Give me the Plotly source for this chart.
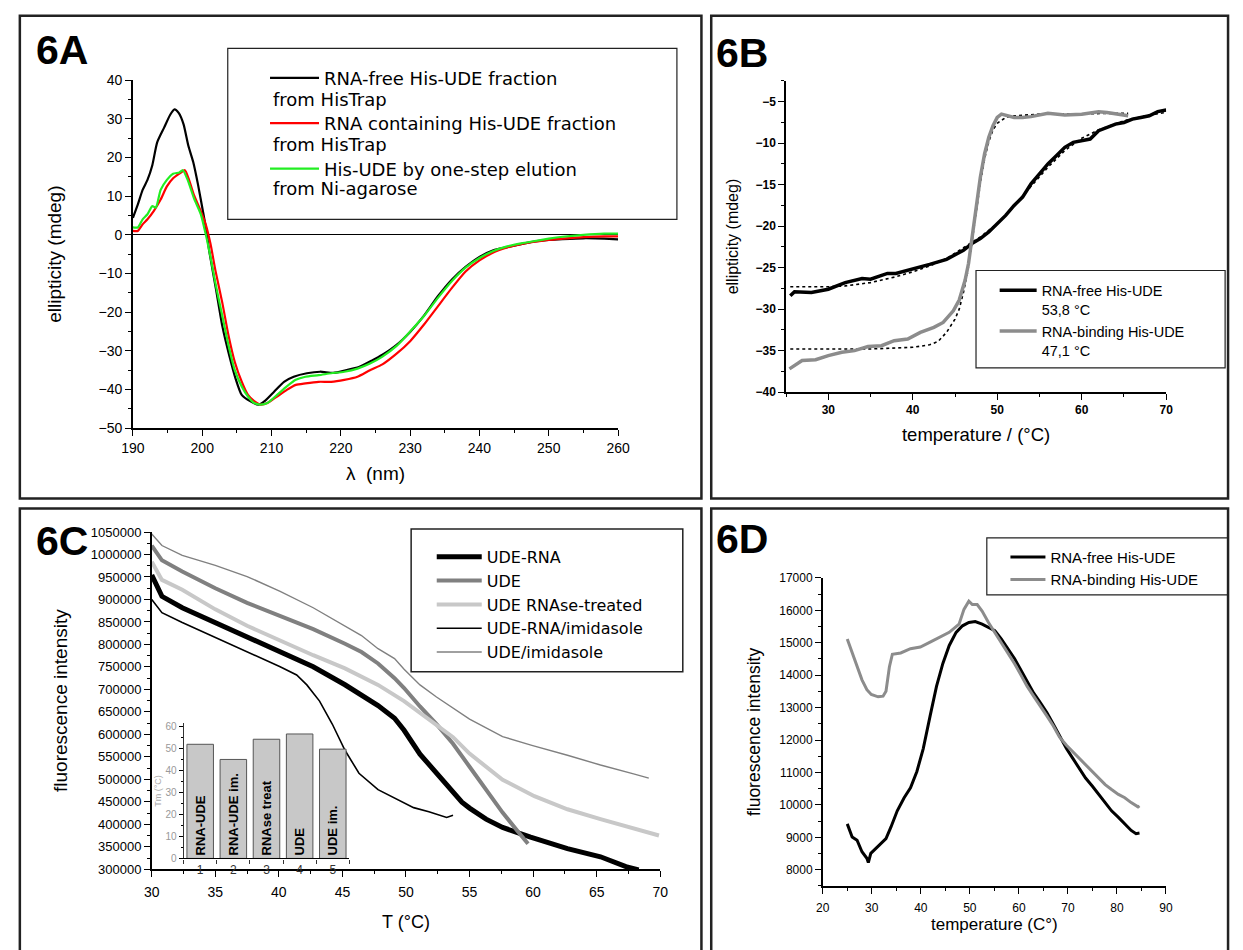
import plotly.graph_objects as go

W, H = 1243, 950
def px(X): return X / W
def py(Y): return 1 - Y / H

FONT = "Liberation Sans, Arial, sans-serif"
WIDE = "DejaVu Sans, Liberation Sans, sans-serif"
NARROW = "Liberation Sans Narrow, Arial Narrow, Liberation Sans, sans-serif"

# ---------------- Panel 6A : CD spectra ----------------
lam_free = [190, 190.7, 191.4, 192.1, 192.8, 193.5, 194.5, 195.4, 196.0, 196.6, 197.3, 198.0, 198.7, 199.4,
            200.1, 200.6, 201.0, 202.0, 202.9, 203.9, 204.8, 205.7, 206.9, 208.1, 209.0, 210.4, 211.8, 213.2,
            215.1, 217.0, 218.9, 220.8, 222.6, 224.5, 226, 228, 230, 232, 234, 236, 238, 240, 242, 244, 246,
            248, 250, 252, 255, 258, 260]
ell_free = [4.4, 7.8, 11.6, 14.2, 18.0, 23.9, 27.7, 31.1, 32.4, 31.5, 28.6, 23.0, 18.8, 12.9,
            6.1, 1.0, -4.1, -14.2, -23.6, -31.2, -37.1, -41.4, -43.0, -43.9, -43.0, -40.5, -38.0, -36.7,
            -35.8, -35.4, -35.7, -35.0, -34.2, -32.5, -31.0, -28.5, -25.1, -20.9, -15.9, -11.6, -8.3, -5.7,
            -4.0, -3.2, -2.4, -1.7, -1.3, -1.1, -0.9, -1.0, -1.2]

lam_rna = [190, 190.7, 191.4, 192.1, 193.0, 194.0, 194.9, 195.8, 196.7, 197.5, 198.1, 198.8, 199.8, 200.5,
           201.2, 201.9, 202.9, 203.8, 204.7, 205.7, 206.6, 207.5, 208.4, 209.4, 210.8, 212.2, 213.5, 214.9,
           216.8, 218.6, 220.5, 222.4, 224.2, 226, 228, 230, 232, 234, 236, 238, 240, 242, 244, 246, 248,
           250, 252, 255, 258, 260]
ell_rna = [1.0, 1.0, 2.7, 4.0, 6.1, 9.1, 12.5, 14.6, 15.8, 16.7, 14.2, 10.3, 6.1, 2.7,
           -2.4, -9.2, -17.6, -26.1, -32.9, -38.0, -41.4, -43.0, -43.9, -43.5, -41.8, -40.1, -38.8, -38.4,
           -38.0, -38.0, -37.5, -36.7, -35.0, -33.5, -30.8, -27.5, -23.2, -18.5, -13.8, -9.5, -6.6, -4.6,
           -3.3, -2.4, -1.8, -1.3, -1.0, -0.6, -0.4, -0.4]

lam_ni = [190, 190.7, 191.4, 192.1, 192.8, 193.3, 194.0, 194.9, 195.8, 196.7, 197.2, 197.9, 198.8, 199.8,
          200.5, 201.2, 201.9, 202.9, 203.8, 204.7, 205.7, 206.6, 207.5, 208.4, 209.4, 210.8, 212.2, 213.5,
          214.9, 216.8, 218.6, 220.5, 222.4, 224.2, 226, 228, 230, 232, 234, 236, 238, 240, 242, 244, 246,
          248, 250, 252, 255, 258, 260]
ell_ni = [1.9, 1.9, 4.0, 5.3, 7.4, 7.0, 11.6, 14.2, 15.8, 16.1, 16.7, 14.2, 9.5, 5.3,
          0.2, -5.8, -12.5, -21.0, -28.6, -35.0, -39.2, -41.8, -43.5, -43.9, -43.5, -41.4, -39.2, -37.5,
          -36.7, -36.3, -35.8, -35.4, -34.6, -33.3, -31.5, -28.8, -25.0, -21.0, -16.3, -12.0, -8.5, -6.0,
          -4.2, -3.0, -2.2, -1.6, -1.0, -0.5, 0.0, 0.3, 0.3]

names_A = ["RNA-free His-UDE fraction", "RNA containing His-UDE fraction", "His-UDE by one-step elution"]
second_A = ["from HisTrap", "from HisTrap", "from Ni-agarose"]

# ---------------- Panel 6B : thermal CD ----------------
tB_free = [25.5, 26, 28, 30, 32, 34, 35, 36, 37, 38, 40, 42, 44, 45, 46, 47, 48, 49, 50, 51, 52, 53, 54,
           55, 56, 57, 58, 59, 60, 61, 62, 63, 64, 65, 66, 67, 68, 69, 70]
eB_free = [-28.4, -27.9, -28.0, -27.6, -26.8, -26.3, -26.4, -26.0, -25.7, -25.7, -25.2, -24.6, -24.0, -23.5,
           -22.9, -22.1, -21.5, -20.7, -19.7, -18.7, -17.5, -16.5, -14.9, -13.7, -12.5, -11.5, -10.5, -9.9,
           -9.7, -9.5, -8.5, -8.1, -7.7, -7.5, -7.1, -6.9, -6.7, -6.2, -6.0]
tB_bind = [25.4, 26.9, 28.5, 30.0, 31.6, 33.1, 34.7, 36.3, 37.8, 39.4, 40.9, 42.5, 43.6, 44.8, 45.5, 46.2,
           46.6, 47, 47.5, 48, 48.5, 49, 49.5, 50, 50.5, 51, 52, 53, 54, 56, 58, 60, 62, 63, 64, 65.5]
eB_bind = [-37.2, -36.2, -36.1, -35.6, -35.2, -35.0, -34.5, -34.4, -33.8, -33.6, -32.8, -32.2, -31.6, -30.2,
           -28.9, -26.5, -24.5, -21.3, -17.3, -14.1, -11.3, -9.3, -7.9, -6.9, -6.5, -6.6, -6.9, -6.9, -6.8,
           -6.4, -6.6, -6.5, -6.2, -6.3, -6.5, -6.7]
tB_fit_free = [25.5, 30, 32, 35, 38, 40, 42, 44, 46, 48, 50, 52, 54, 56, 58, 60, 62, 65, 68, 70]
eB_fit_free = [-27.3, -27.3, -27.2, -26.8, -26.1, -25.5, -24.8, -23.9, -22.6, -21.3, -19.7, -17.6, -15.2,
               -12.9, -10.9, -9.4, -8.4, -7.3, -6.6, -6.3]
tB_fit_bind = [25.5, 30, 35, 40, 42, 43, 44, 45, 45.5, 46, 46.5, 47, 47.5, 48, 48.5, 49, 49.5, 50, 51, 52,
               55, 60, 65.5]
eB_fit_bind = [-34.8, -34.8, -34.8, -34.6, -34.3, -33.9, -32.8, -31.2, -30.0, -28.0, -25.5, -22.0, -18.3,
               -14.8, -11.9, -9.8, -8.4, -7.6, -6.9, -6.7, -6.5, -6.45, -6.4]
names_B = ["RNA-free His-UDE<br>53,8 °C", "RNA-binding His-UDE<br>47,1 °C"]

# ---------------- Panel 6C : fluorescence melting ----------------
tC_ude_rna = [30.0, 30.8, 32.4, 35.0, 37.5, 40.1, 42.7, 45.2, 46.5, 47.8, 49.1, 49.85, 51.1, 52.4, 53.7,
              54.4, 55.0, 56.3, 57.6, 59.8, 62.7, 65.3, 67.3, 68.3]
fC_ude_rna = [954500, 907000, 881600, 848800, 816000, 783200, 750400, 710300, 688500, 664000, 636000, 609000,
              556000, 513500, 471000, 449000, 436000, 411500, 393000, 371400, 346000, 327700, 305800, 298500]
tC_ude = [30.0, 30.8, 32.4, 35.0, 37.5, 40.1, 42.7, 45.2, 46.5, 47.8, 49.1, 49.85, 51.1, 52.4, 53.7, 55.0,
          56.3, 57.6, 58.85, 59.6]
fC_ude = [1020000, 987000, 962000, 925000, 892600, 863400, 834000, 801500, 783000, 757700, 725000, 703000,
          662000, 622800, 579000, 528000, 477000, 426000, 382300, 356800]
tC_rnase = [30.0, 30.8, 32.4, 35.0, 37.5, 40.1, 42.7, 45.2, 47.8, 49.85, 51.1, 52.4, 53.7, 55.0, 57.6, 60.1,
            62.7, 65.3, 67.9, 69.9]
fC_rnase = [983700, 943600, 921700, 878000, 841500, 808700, 776000, 746800, 710000, 673900, 648400, 622800,
            593700, 557200, 499000, 462500, 433400, 411500, 389600, 375000]
tC_rna_im = [30.0, 30.8, 32.4, 35.0, 37.5, 40.1, 41.4, 42.2, 43.2, 44.2, 45.2, 46.3, 47.8, 49.3, 50.6, 51.8,
             52.4, 53.2, 53.7]
fC_rna_im = [899800, 870700, 848800, 816000, 783200, 750400, 732000, 710000, 674000, 623000, 564600, 513500,
             477000, 455200, 437000, 428000, 422400, 415200, 420200]
tC_ude_im = [30.0, 30.8, 32.4, 35.0, 37.5, 40.1, 42.7, 45.2, 46.5, 47.8, 49.1, 49.85, 51.1, 52.4, 55.0, 57.6,
             59.9, 62.7, 65.3, 67.9, 69.1]
fC_ude_im = [1045600, 1020000, 998000, 976000, 951000, 918000, 881600, 841500, 819700, 790500, 768600, 745000,
             710000, 683000, 634000, 595000, 575500, 553600, 531800, 512000, 502600]
names_C = ["UDE-RNA", "UDE", "UDE RNAse-treated", "UDE-RNA/imidasole", "UDE/imidasole"]

# inset: melting temperatures
tm_pos = [1, 2, 3, 4, 5]
tm_val = [52.0, 45.1, 54.3, 56.7, 49.8]
tm_lab = ["RNA-UDE", "RNA-UDE im.", "RNAse treat", "UDE", "UDE im."]

# ---------------- Panel 6D : fluorescence vs temperature ----------------
tD_free = [25.0, 26.0, 27.0, 28.0, 29.0, 29.3, 29.8, 30.9, 31.9, 32.9, 33.9, 35.2, 36.6, 37.9, 39.2, 40.5,
           41.9, 43.2, 44.5, 45.8, 47.2, 48.5, 49.8, 51.1, 52.5, 53.8, 55.1, 56.4, 57.7, 59.1, 60.4, 61.7,
           63.0, 64.4, 65.7, 67.0, 68.3, 69.7, 71.0, 72.3, 73.6, 75.0, 76.3, 77.6, 78.9, 80.3, 81.6, 82.9,
           83.9, 84.6]
fD_free = [9414, 9010, 8909, 8555, 8354, 8222, 8505, 8656, 8808, 8960, 9313, 9818, 10222, 10525, 11030, 11737,
           12747, 13656, 14363, 14918, 15322, 15524, 15625, 15656, 15575, 15474, 15373, 15120, 14817, 14515,
           14161, 13807, 13454, 13151, 12848, 12495, 12141, 11737, 11434, 11131, 10828, 10575, 10323, 10070,
           9818, 9616, 9414, 9212, 9111, 9131]
tD_bind = [25.0, 26.0, 27.0, 28.0, 29.0, 29.9, 31.3, 32.3, 32.9, 33.6, 34.2, 35.9, 37.9, 39.9, 41.9, 43.8,
           45.8, 47.8, 48.8, 49.8, 50.5, 51.5, 52.5, 53.8, 55.1, 56.4, 57.7, 59.1, 60.4, 61.7, 63.0, 64.4,
           65.7, 67.0, 68.3, 69.7, 71.0, 72.3, 73.6, 75.0, 76.3, 77.6, 78.9, 80.3, 81.6, 82.9, 84.3, 84.6]
fD_bind = [15120, 14717, 14262, 13858, 13555, 13404, 13333, 13353, 13505, 14262, 14646, 14686, 14818, 14868,
           15019, 15171, 15322, 15575, 16030, 16282, 16181, 16181, 15979, 15625, 15322, 15019, 14717, 14363,
           14010, 13656, 13353, 13050, 12747, 12444, 12090, 11838, 11636, 11434, 11232, 11030, 10828, 10626,
           10474, 10323, 10222, 10070, 9939, 9970]
names_D = ["RNA-free His-UDE", "RNA-binding His-UDE"]

# =====================================================================
fig = go.Figure()

# --- A
for xs, ys, nm, col in [(lam_free, ell_free, names_A[0], "#000000"),
                        (lam_rna, ell_rna, names_A[1], "#ff0000"),
                        (lam_ni, ell_ni, names_A[2], "#22ee22")]:
    fig.add_trace(go.Scatter(x=xs, y=ys, mode="lines", name=nm, legend="legend", legendgroup=nm,
                             line=dict(color=col, width=2.2, shape="spline", smoothing=0.6),
                             xaxis="x", yaxis="y"))

# --- B
fig.add_trace(go.Scatter(x=tB_fit_free, y=eB_fit_free, mode="lines", showlegend=False,
                         line=dict(color="black", width=1.6, dash="dot"), xaxis="x2", yaxis="y2"))
fig.add_trace(go.Scatter(x=tB_fit_bind, y=eB_fit_bind, mode="lines", showlegend=False,
                         line=dict(color="black", width=1.6, dash="dot"), xaxis="x2", yaxis="y2"))
fig.add_trace(go.Scatter(x=tB_free, y=eB_free, mode="lines", name=names_B[0], legend="legend2",
                         line=dict(color="#000000", width=3.5), xaxis="x2", yaxis="y2"))
fig.add_trace(go.Scatter(x=tB_bind, y=eB_bind, mode="lines", name=names_B[1], legend="legend2",
                         line=dict(color="#8c8c8c", width=3.5), xaxis="x2", yaxis="y2"))

# --- C
for xs, ys, nm, col, wd in [(tC_ude_rna, fC_ude_rna, names_C[0], "#000000", 5),
                            (tC_ude, fC_ude, names_C[1], "#808080", 4),
                            (tC_rnase, fC_rnase, names_C[2], "#c8c8c8", 4),
                            (tC_rna_im, fC_rna_im, names_C[3], "#000000", 1.6),
                            (tC_ude_im, fC_ude_im, names_C[4], "#808080", 1.4)]:
    fig.add_trace(go.Scatter(x=xs, y=ys, mode="lines", name=nm, legend="legend3",
                             line=dict(color=col, width=wd), xaxis="x3", yaxis="y3"))

# --- C inset
fig.add_trace(go.Bar(x=tm_pos, y=tm_val, text=tm_lab, width=0.8, showlegend=False,
                     marker=dict(color="#c8c8c8", line=dict(color="#555555", width=1)),
                     textposition="inside", textangle=-90, insidetextanchor="start",
                     constraintext="none",
                     textfont=dict(family=FONT, size=13, color="black", weight="bold"),
                     xaxis="x5", yaxis="y5"))

# --- D
fig.add_trace(go.Scatter(x=tD_free, y=fD_free, mode="lines", name=names_D[0], legend="legend4",
                         line=dict(color="#000000", width=3), xaxis="x4", yaxis="y4"))
fig.add_trace(go.Scatter(x=tD_bind, y=fD_bind, mode="lines", name=names_D[1], legend="legend4",
                         line=dict(color="#8c8c8c", width=3), xaxis="x4", yaxis="y4"))


def ax(**kw):
    d = dict(showline=True, linecolor="black", linewidth=1.5, ticks="outside", ticklen=6, tickwidth=1.3,
             tickcolor="black", showgrid=False, zeroline=False, mirror=False, layer="above traces")
    d.update(kw)
    return d

minor = lambda dt, ln=3: dict(ticks="outside", dtick=dt, ticklen=ln, tickwidth=1.1, tickcolor="black")

layout = dict(
    width=W, height=H, margin=dict(l=0, r=0, t=0, b=0),
    paper_bgcolor="white", plot_bgcolor="rgba(0,0,0,0)",
    font=dict(family=FONT, color="black"),
    # A
    xaxis=ax(domain=[px(123.3), px(618)], range=[190, 260], dtick=10, minor=minor(5), anchor="y",
             tickfont=dict(size=14), title=dict(text="λ  (nm)", font=dict(size=19), standoff=12)),
    yaxis=ax(domain=[py(427.4), py(73.3)], range=[-50, 40], dtick=10, minor=minor(5), anchor="x",
             zeroline=True, zerolinecolor="black", zerolinewidth=1,
             tickfont=dict(size=14), title=dict(text="ellipticity (mdeg)", font=dict(size=19), standoff=32)),
    # B
    xaxis2=ax(domain=[px(789.3), px(1176.9)], range=[25, 70], tick0=30, dtick=10, minor=minor(5),
              anchor="y2", tickfont=dict(size=12, weight="bold"),
              title=dict(text="temperature / (°C)", font=dict(size=18.5), standoff=12)),
    yaxis2=ax(domain=[py(390.7), py(74.2)], range=[-40, -2.5], tick0=-40, dtick=5, minor=minor(2.5),
              anchor="x2", tickfont=dict(size=12, weight="bold"),
              title=dict(text="ellipticity (mdeg)", font=dict(size=16), standoff=13)),
    # C
    xaxis3=ax(domain=[px(142.5), px(661)], range=[30, 70], dtick=5, minor=minor(2.5), anchor="y3",
              tickfont=dict(size=14), ticklabelstandoff=3,
              title=dict(text="T (°C)", font=dict(size=18), standoff=17)),
    yaxis3=ax(domain=[py(876), py(533)], range=[300000, 1050000], dtick=50000, minor=minor(25000),
              anchor="x3", tickformat="d", tickfont=dict(size=13),
              title=dict(text="fluorescence intensity", font=dict(size=19), standoff=18)),
    # D
    xaxis4=ax(domain=[px(826.7), px(1176.7)], range=[20, 90], dtick=10, minor=minor(5), anchor="y4",
              tickfont=dict(size=12, family=NARROW), ticklabelstandoff=4,
              title=dict(text="temperature (C°)", font=dict(size=17), standoff=2)),
    yaxis4=ax(domain=[py(893), py(579.7)], range=[7500, 17000], tick0=8000, dtick=1000, minor=minor(500),
              anchor="x4", tickformat="d", tickfont=dict(size=12, family=NARROW),
              title=dict(text="fluorescence intensity", font=dict(size=17.5), standoff=14)),
    # inset
    xaxis5=ax(domain=[px(175), px(344)], range=[0.5, 5.5], tickvals=tm_pos, ticktext=[str(v) for v in tm_pos],
              ticks="", linewidth=1.2, anchor="y5", tickfont=dict(size=12, color="#333333"),
              minor=dict(ticks="outside", tickvals=[0.5, 1.5, 2.5, 3.5, 4.5, 5.5], ticklen=4,
                         tickcolor="#333333", tickwidth=1)),
    yaxis5=ax(domain=[py(865), py(727.7)], range=[0, 61.5], dtick=10, minor=minor(5, 2), ticklen=4,
              linewidth=1.2, linecolor="#333333", anchor="x5", tickfont=dict(size=10, color="#999999"),
              title=dict(text="Tm (°C)", font=dict(size=9, color="#aaaaaa"), standoff=2)),
)

leg_common = dict(xref="paper", yref="paper", xanchor="left", yanchor="top",
                  bgcolor="rgba(0,0,0,0)", borderwidth=0, valign="top")
layout["legend"] = dict(leg_common, x=px(258), y=py(52.5), font=dict(size=18, family=WIDE), itemwidth=49,
                        traceorder="grouped", tracegroupgap=19)
layout["legend2"] = dict(leg_common, x=px(1002), y=py(271), font=dict(size=14.5), itemwidth=37,
                         tracegroupgap=0)
layout["legend3"] = dict(leg_common, x=px(428), y=py(541), font=dict(size=16, family=WIDE), itemwidth=45,
                         tracegroupgap=0)
layout["legend4"] = dict(leg_common, x=px(1013), y=py(542), font=dict(size=15), itemwidth=35,
                         tracegroupgap=0)

# frames and legend boxes (paper coordinates)
def rect(x0, y0, x1, y1, w):
    return dict(type="rect", xref="paper", yref="paper", x0=px(x0), x1=px(x1), y0=py(y1), y1=py(y0),
                line=dict(color="#222222", width=w), fillcolor="rgba(0,0,0,0)", layer="above")

layout["shapes"] = [
    rect(8, 8, 703, 499, 2.5), rect(713, 8, 1240, 499, 2.5),
    rect(8, 509, 703, 970, 2.5), rect(713, 509, 1240, 970, 2.5),
    rect(220, 41, 678, 215, 1.2), rect(983, 267, 1237, 366, 1.2),
    rect(407, 530, 684, 675, 1.5), rect(994, 539, 1240, 597, 1.2),
]

ann = []
for lab, X, Y in [("6A", 22, 17), ("6B", 716, 20), ("6C", 22, 517), ("6D", 716, 515)]:
    ann.append(dict(text=lab, x=px(X), y=py(Y), xref="paper", yref="paper", xanchor="left", yanchor="top",
                    showarrow=False, font=dict(size=41, weight="bold", color="black")))
for i, t in enumerate(second_A):
    ann.append(dict(text=t, x=px(264), y=py(93.3 + 45.4 * i), xref="paper", yref="paper", xanchor="left",
                    yanchor="middle", showarrow=False, font=dict(size=18, family=WIDE, color="black")))
layout["annotations"] = ann

fig.update_layout(**layout)
fig.write_html("out.html")
